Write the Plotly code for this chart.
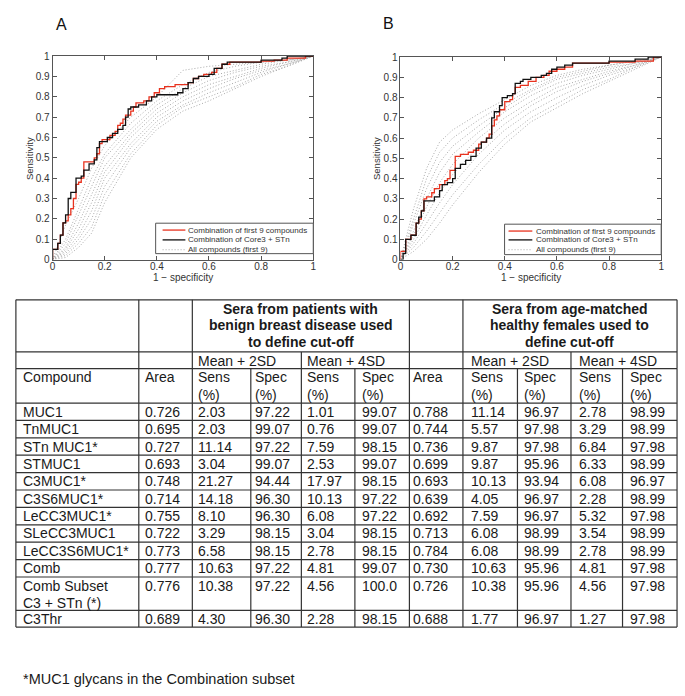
import plotly.graph_objects as go

W, H = 685, 696

# ---------------- ROC data ----------------
# Panel A
a_red_x = [0, 0, 0.02, 0.03, 0.04, 0.05, 0.06, 0.07, 0.08, 0.09, 0.10, 0.11, 0.12, 0.16, 0.17, 0.18, 0.19, 0.22, 0.24, 0.25, 0.26, 0.27, 0.28, 0.30, 0.31, 0.32, 0.35, 0.37, 0.39, 0.41, 0.43, 0.47, 0.52, 0.54, 0.56, 0.58, 0.61, 0.63, 0.65, 0.68, 0.80, 0.85, 0.90, 0.97, 1.0]
a_red_y = [0, 0.05, 0.08, 0.12, 0.18, 0.19, 0.22, 0.25, 0.30, 0.37, 0.38, 0.40, 0.48, 0.50, 0.52, 0.57, 0.59, 0.61, 0.63, 0.66, 0.67, 0.69, 0.71, 0.73, 0.75, 0.77, 0.78, 0.80, 0.82, 0.84, 0.85, 0.86, 0.87, 0.89, 0.90, 0.91, 0.92, 0.94, 0.96, 0.97, 0.975, 0.98, 0.99, 1.0, 1.0]
a_blk_x = [0, 0, 0.02, 0.03, 0.04, 0.05, 0.06, 0.07, 0.09, 0.11, 0.12, 0.14, 0.16, 0.17, 0.18, 0.21, 0.23, 0.25, 0.27, 0.28, 0.29, 0.30, 0.33, 0.36, 0.38, 0.40, 0.48, 0.50, 0.52, 0.54, 0.56, 0.60, 0.62, 0.65, 0.67, 0.80, 0.88, 0.90, 1.0]
a_blk_y = [0, 0.05, 0.08, 0.12, 0.18, 0.22, 0.30, 0.33, 0.40, 0.41, 0.44, 0.47, 0.49, 0.55, 0.58, 0.60, 0.62, 0.64, 0.66, 0.70, 0.74, 0.75, 0.76, 0.78, 0.80, 0.81, 0.82, 0.84, 0.87, 0.89, 0.90, 0.91, 0.94, 0.96, 0.97, 0.98, 0.99, 1.0, 1.0]
grid_x = [0, 0.05, 0.1, 0.15, 0.2, 0.3, 0.4, 0.5, 0.6, 0.7, 0.8, 0.9, 1.0]
a_gray = [
    [0, 0.17, 0.30, 0.45, 0.56, 0.70, 0.80, 0.93, 0.95, 0.96, 0.97, 0.98, 1],
    [0, 0.10, 0.25, 0.40, 0.52, 0.67, 0.78, 0.86, 0.92, 0.95, 0.97, 0.98, 1],
    [0, 0.08, 0.22, 0.36, 0.50, 0.64, 0.76, 0.84, 0.90, 0.93, 0.96, 0.98, 1],
    [0, 0.06, 0.18, 0.32, 0.46, 0.62, 0.74, 0.82, 0.88, 0.92, 0.95, 0.97, 1],
    [0, 0.05, 0.15, 0.28, 0.43, 0.60, 0.72, 0.80, 0.86, 0.90, 0.94, 0.97, 1],
    [0, 0.04, 0.12, 0.24, 0.40, 0.57, 0.70, 0.78, 0.84, 0.89, 0.93, 0.96, 1],
    [0, 0.03, 0.10, 0.20, 0.36, 0.55, 0.68, 0.76, 0.82, 0.87, 0.92, 0.96, 1],
    [0, 0.02, 0.08, 0.16, 0.32, 0.52, 0.66, 0.75, 0.80, 0.85, 0.91, 0.95, 1],
    [0, 0.01, 0.06, 0.13, 0.28, 0.50, 0.64, 0.73, 0.78, 0.84, 0.90, 0.95, 1],
]
# Panel B
b_red_x = [0, 0, 0.02, 0.04, 0.06, 0.07, 0.08, 0.09, 0.10, 0.12, 0.13, 0.15, 0.17, 0.18, 0.19, 0.21, 0.23, 0.26, 0.28, 0.30, 0.31, 0.33, 0.34, 0.35, 0.36, 0.37, 0.38, 0.40, 0.42, 0.43, 0.44, 0.46, 0.49, 0.52, 0.55, 0.57, 0.60, 0.63, 0.66, 0.80, 0.90, 0.97, 1.0]
b_red_y = [0, 0.04, 0.10, 0.12, 0.18, 0.20, 0.24, 0.30, 0.31, 0.33, 0.35, 0.37, 0.39, 0.40, 0.44, 0.51, 0.52, 0.53, 0.54, 0.57, 0.58, 0.60, 0.62, 0.66, 0.69, 0.71, 0.74, 0.78, 0.79, 0.82, 0.85, 0.86, 0.88, 0.90, 0.91, 0.93, 0.94, 0.95, 0.97, 0.975, 0.98, 1.0, 1.0]
b_blk_x = [0, 0.01, 0.02, 0.04, 0.06, 0.07, 0.08, 0.09, 0.13, 0.15, 0.16, 0.18, 0.20, 0.21, 0.23, 0.25, 0.27, 0.29, 0.31, 0.33, 0.35, 0.36, 0.38, 0.39, 0.41, 0.43, 0.44, 0.46, 0.47, 0.50, 0.54, 0.56, 0.58, 0.60, 0.63, 0.66, 0.80, 0.90, 0.95, 1.0]
b_blk_y = [0, 0.03, 0.10, 0.12, 0.18, 0.21, 0.24, 0.29, 0.31, 0.34, 0.37, 0.38, 0.40, 0.45, 0.47, 0.49, 0.51, 0.55, 0.58, 0.60, 0.70, 0.73, 0.76, 0.80, 0.81, 0.82, 0.87, 0.88, 0.89, 0.90, 0.91, 0.92, 0.94, 0.95, 0.96, 0.97, 0.98, 0.99, 1.0, 1.0]
b_gray = [
    [0, 0.25, 0.45, 0.58, 0.64, 0.72, 0.79, 0.86, 0.91, 0.94, 0.96, 0.98, 1],
    [0, 0.20, 0.40, 0.53, 0.60, 0.69, 0.77, 0.84, 0.90, 0.93, 0.96, 0.98, 1],
    [0, 0.17, 0.35, 0.48, 0.56, 0.66, 0.75, 0.83, 0.89, 0.92, 0.95, 0.97, 1],
    [0, 0.14, 0.30, 0.43, 0.52, 0.63, 0.73, 0.81, 0.87, 0.91, 0.94, 0.97, 1],
    [0, 0.12, 0.26, 0.38, 0.47, 0.60, 0.70, 0.78, 0.85, 0.89, 0.93, 0.96, 1],
    [0, 0.10, 0.22, 0.33, 0.42, 0.56, 0.67, 0.76, 0.83, 0.88, 0.92, 0.96, 1],
    [0, 0.08, 0.18, 0.28, 0.37, 0.52, 0.64, 0.73, 0.80, 0.86, 0.91, 0.95, 1],
    [0, 0.06, 0.14, 0.23, 0.32, 0.47, 0.60, 0.70, 0.77, 0.84, 0.89, 0.95, 1],
    [0, 0.04, 0.10, 0.18, 0.27, 0.43, 0.57, 0.68, 0.75, 0.82, 0.88, 0.94, 1],
]
legend_labels = ["Combination of first 9 compounds", "Combination of Core3 + STn", "All compounds (first 9)"]
y_ticks = [0, 0.1, 0.2, 0.3, 0.4, 0.5, 0.6, 0.7, 0.8, 0.9, 1]
y_tick_text = ["0", "0.1", "0.2", "0.3", "0.4", "0.5", "0.6", "0.7", "0.8", "0.9", "1"]
x_ticks = [0, 0.2, 0.4, 0.6, 0.8, 1]
x_tick_text = ["0", "0.2", "0.4", "0.6", "0.8", "1"]

# ---------------- Table data ----------------
compounds = ["MUC1", "TnMUC1", "STn MUC1*", "STMUC1", "C3MUC1*", "C3S6MUC1*", "LeCC3MUC1*",
             "SLeCC3MUC1", "LeCC3S6MUC1*", "Comb", "Comb Subset|C3 + STn (*)", "C3Thr"]
area_benign = ["0.726", "0.695", "0.727", "0.693", "0.748", "0.714", "0.755", "0.722", "0.773", "0.777", "0.776", "0.689"]
sens2_benign = ["2.03", "2.03", "11.14", "3.04", "21.27", "14.18", "8.10", "3.29", "6.58", "10.63", "10.38", "4.30"]
spec2_benign = ["97.22", "99.07", "97.22", "99.07", "94.44", "96.30", "96.30", "98.15", "98.15", "97.22", "97.22", "96.30"]
sens4_benign = ["1.01", "0.76", "7.59", "2.53", "17.97", "10.13", "6.08", "3.04", "2.78", "4.81", "4.56", "2.28"]
spec4_benign = ["99.07", "99.07", "98.15", "99.07", "98.15", "97.22", "97.22", "98.15", "98.15", "99.07", "100.0", "98.15"]
area_healthy = ["0.788", "0.744", "0.736", "0.699", "0.693", "0.639", "0.692", "0.713", "0.784", "0.730", "0.726", "0.688"]
sens2_healthy = ["11.14", "5.57", "9.87", "9.87", "10.13", "4.05", "7.59", "6.08", "6.08", "10.63", "10.38", "1.77"]
spec2_healthy = ["96.97", "97.98", "97.98", "95.96", "93.94", "96.97", "96.97", "98.99", "98.99", "95.96", "95.96", "96.97"]
sens4_healthy = ["2.78", "3.29", "6.84", "6.33", "6.08", "2.28", "5.32", "3.54", "2.78", "4.81", "4.56", "1.27"]
spec4_healthy = ["98.99", "98.99", "97.98", "98.99", "96.97", "98.99", "97.98", "98.99", "98.99", "97.98", "97.98", "97.98"]
group_headers = [["Sera from patients with", "benign breast disease used", "to define cut-off"],
                 ["Sera from age-matched", "healthy females used to", "define cut-off"]]
cutoff_headers = ["Mean + 2SD", "Mean + 4SD", "Mean + 2SD", "Mean + 4SD"]
col_headers = ["Compound", "Area", "Sens", "Spec", "Sens", "Spec", "Area", "Sens", "Spec", "Sens", "Spec"]
footnote = "*MUC1 glycans in the Combination subset"

# ---------------- helpers ----------------
def X(px):
    return px / W

def Y(py):
    return 1 - py / H

RED = "#e8321e"
BLACK = "#111111"
GRAY = "#a8a8a8"
AX = "#555555"
FONT = "Liberation Sans, Arial, Helvetica, sans-serif"

fig = go.Figure()

panels = [
    ("x", "y", a_red_x, a_red_y, a_blk_x, a_blk_y, a_gray),
    ("x2", "y2", b_red_x, b_red_y, b_blk_x, b_blk_y, b_gray),
]
for xa, ya, rx, ry, kx, ky, grays in panels:
    for g in grays:
        fig.add_trace(go.Scatter(x=grid_x, y=g, mode="lines", xaxis=xa, yaxis=ya,
                                 line=dict(color=GRAY, width=1, dash="1px,2px"), showlegend=False,
                                 hoverinfo="skip"))
    fig.add_trace(go.Scatter(x=rx, y=ry, mode="lines", xaxis=xa, yaxis=ya, line_shape="hv",
                             line=dict(color=RED, width=1.3), showlegend=False))
    fig.add_trace(go.Scatter(x=kx, y=ky, mode="lines", xaxis=xa, yaxis=ya, line_shape="hv",
                             line=dict(color=BLACK, width=1.3), showlegend=False))

ax_common = dict(range=[0, 1], showgrid=False, zeroline=False, showline=True, linecolor=AX,
                 linewidth=1, mirror="ticks", ticks="inside", ticklen=4, tickcolor=AX,
                 tickfont=dict(family=FONT, size=10, color="#333"))
fig.update_layout(
    width=W, height=H, margin=dict(l=0, r=0, t=0, b=0),
    paper_bgcolor="white", plot_bgcolor="white", showlegend=False,
    xaxis=dict(domain=[X(50), X(313)], anchor="y", tickvals=x_ticks, ticktext=x_tick_text,
               ticklabelstandoff=-3, **ax_common),
    yaxis=dict(domain=[Y(258), Y(51)], anchor="x", tickvals=y_ticks, ticktext=y_tick_text, **ax_common),
    xaxis2=dict(domain=[X(401), X(664)], anchor="y2", tickvals=x_ticks, ticktext=x_tick_text,
                ticklabelstandoff=-3, **ax_common),
    yaxis2=dict(domain=[Y(258), Y(52)], anchor="x2", tickvals=y_ticks, ticktext=y_tick_text, **ax_common),
)

shapes = []
annotations = []

def text(px, py, s, size=14, bold=False, xanchor="left", yanchor="middle", color="#1a1a1a", angle=0, align="left"):
    annotations.append(dict(x=X(px), y=Y(py), xref="paper", yref="paper", text=(f"<b>{s}</b>" if bold else s),
                            showarrow=False, xanchor=xanchor, yanchor=yanchor, align=align, textangle=angle,
                            font=dict(family=FONT, size=size, color=color)))

def line(x0, y0, x1, y1, color="#333", width=1):
    shapes.append(dict(type="line", xref="paper", yref="paper", x0=X(x0), y0=Y(y0), x1=X(x1), y1=Y(y1),
                       line=dict(color=color, width=width)))

# panel labels and axis titles
text(59, 19, "A", size=16, xanchor="center", color="#111")
text(389, 18, "B", size=16, xanchor="center", color="#111")
for cx, cy in [(181.5, 276), (532.5, 276)]:
    text(cx, cy, "1 − specificity", size=10, xanchor="center", color="#333")
for cx, cy in [(27, 155), (377, 155)]:
    text(cx, cy, "Sensitivity", size=9.5, xanchor="center", color="#333", angle=-90)

# manual legends
for (bx0, by0, bx1, by1, lx0, lx1, tx, rows) in [
        (154, 221, 313, 252, 161, 184, 185, [228, 238, 248]),
        (506, 222, 664, 253, 510, 534, 536, [229, 238, 248])]:
    shapes.append(dict(type="rect", xref="paper", yref="paper", x0=X(bx0), y0=Y(by1), x1=X(bx1), y1=Y(by0),
                       line=dict(color=AX, width=1), fillcolor="white", layer="above"))
    styles = [(RED, "solid", 1.3), (BLACK, "solid", 1.3), (GRAY, "1px,2px", 1)]
    for (col, dash, wd), ry, lab in zip(styles, rows, legend_labels):
        shapes.append(dict(type="line", xref="paper", yref="paper", x0=X(lx0), y0=Y(ry), x1=X(lx1), y1=Y(ry),
                           line=dict(color=col, width=wd, dash=dash), layer="above"))
        text(tx, ry, lab, size=8, color="#333")

# ---------------- table ----------------
cols = [13, 137, 191, 250, 301, 355, 410, 464, 519, 573, 625, 680]
text_x = [18, 141, 195, 252, 305, 360, 412, 470, 524, 579, 631]
r_top, r_h1, r_h2, r_h3 = 299, 352, 369, 404
row_edges = [404, 421.7, 439.4, 457.1, 474.8, 492.5, 510.2, 527.9, 545.6, 563.3, 581, 615, 632]
LC = "#333"

for yy in [r_top, r_h1, r_h2] + row_edges:
    line(cols[0], yy, cols[-1], yy, LC, 1.2)
for xx in [13, 137, 191, 410, 464, 680]:
    line(xx, r_top, xx, r_h1, LC, 1.2)
for xx in [13, 137, 191, 301, 410, 464, 573, 680]:
    line(xx, r_h1, xx, r_h2, LC, 1.2)
for xx in cols:
    line(xx, r_h2, xx, row_edges[-1], LC, 1.2)

for cx, lines3 in zip([(191 + 410) / 2, (464 + 680) / 2], group_headers):
    for ly, s in zip([308, 325, 342], lines3):
        text(cx, ly, s, bold=True, xanchor="center")
for xx, s in zip([text_x[2], text_x[4], text_x[7], text_x[9]], cutoff_headers):
    text(xx, 361, s)
for i, s in enumerate(col_headers):
    text(text_x[i], 378, s)
    if i not in (0, 1, 6):
        text(text_x[i], 396, "(%)")

body_cols = [compounds, area_benign, sens2_benign, spec2_benign, sens4_benign, spec4_benign,
             area_healthy, sens2_healthy, spec2_healthy, sens4_healthy, spec4_healthy]
for r in range(len(compounds)):
    y0, y1 = row_edges[r], row_edges[r + 1]
    two_line = "|" in compounds[r]
    cy = 590 if two_line else (y0 + y1) / 2
    for c, col in enumerate(body_cols):
        if c == 0 and two_line:
            first, second = col[r].split("|")
            text(text_x[c], 590, first)
            text(text_x[c], 607, second)
        else:
            text(text_x[c], cy, col[r])

text(18, 685, footnote, size=14.5)

fig.update_layout(shapes=shapes, annotations=annotations)
fig.write_html("out.html", config={"displayModeBar": False},
               post_script="document.body.style.margin='0px';document.body.style.overflow='hidden';")
